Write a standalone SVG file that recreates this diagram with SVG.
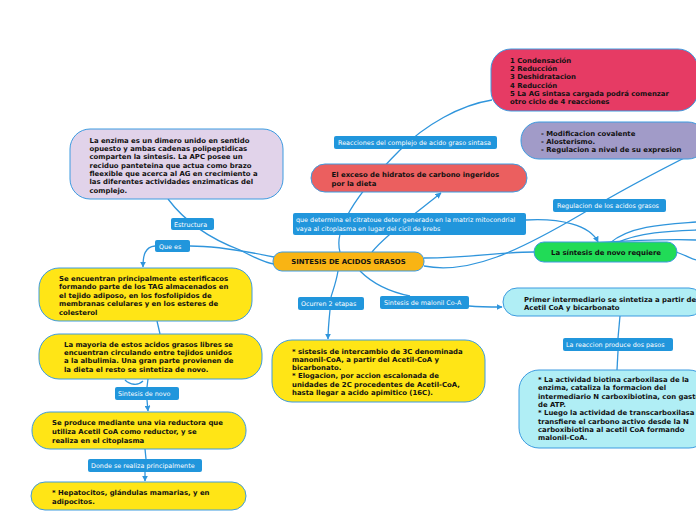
<svg xmlns="http://www.w3.org/2000/svg" width="696" height="520" viewBox="0 0 696 520">
<defs>
<style>
.n{stroke:#3d9be0;stroke-width:1}
.t{font-family:"DejaVu Sans",Verdana,sans-serif;font-weight:bold;font-size:6.9px;fill:#111}
.lb{fill:#2196dc}
.lt{font-family:"DejaVu Sans",Verdana,sans-serif;font-size:6.4px;fill:#fff}
.c{fill:none;stroke:#2f95dc;stroke-width:1.3}
</style>
<marker id="a" viewBox="0 0 10 10" refX="9" refY="5" markerWidth="6" markerHeight="6" orient="auto" markerUnits="userSpaceOnUse">
<path d="M0,0 L10,5 L0,10 z" fill="#2f95dc"/>
</marker>
</defs>
<rect width="696" height="520" fill="#fff"/>
<g id="connectors">
<path class="c" d="M 340 252 C 332 225, 365 185, 400 150 C 425 125, 460 105, 492 100"/>
<path class="c" d="M 372 252 C 385 235, 420 210, 441 193" marker-end="url(#a)"/>
<path class="c" d="M 526 220 C 560 218, 590 225, 598 242" marker-end="url(#a)"/>
<path class="c" d="M 168 199 C 180 215, 200 235, 240 250 C 255 258, 265 263, 274 264"/>
<path class="c" d="M 274 257 C 240 250, 215 246, 190 246"/>
<path class="c" d="M 155 246 C 145 247, 143 255, 143 267" marker-end="url(#a)"/>
<path class="c" d="M 157 321 L 160 334"/>
<path class="c" d="M 148 379 L 147 387"/>
<path class="c" d="M 143 381 C 138 386, 130 385, 125 380"/>
<path class="c" d="M 147 400 L 148 411" marker-end="url(#a)"/>
<path class="c" d="M 145 449 L 146 459"/>
<path class="c" d="M 145 472 L 145 481" marker-end="url(#a)"/>
<path class="c" d="M 338 271 C 336 283, 333 290, 331 297"/>
<path class="c" d="M 330 310 C 329 320, 328 330, 328 339" marker-end="url(#a)"/>
<path class="c" d="M 360 271 C 372 283, 390 292, 410 296"/>
<path class="c" d="M 469 306 C 480 307, 490 307, 502 307" marker-end="url(#a)"/>
<path class="c" d="M 620 316 L 618 338"/>
<path class="c" d="M 618 351 L 617 370"/>
<path class="c" d="M 424 258 C 470 258, 500 252, 534 252"/>
<path class="c" d="M 424 266 C 470 275, 520 250, 580 215 C 630 185, 670 165, 696 152"/>
<path class="c" d="M 610 243 C 630 225, 670 224, 696 222"/>
<path class="c" d="M 616 243 C 640 232, 670 231, 696 230"/>
<path class="c" d="M 595 243 C 640 240, 670 239, 696 240"/>
<path class="c" d="M 676 252 C 685 255, 690 258, 696 260"/>
</g>
<g id="lbl-reacciones"><rect class="lb" x="334" y="136" width="163" height="13" rx="2"/><text class="lt" x="338" y="145">Reacciones del complejo de acido graso sintasa</text></g>
<g id="lbl-determina"><rect class="lb" x="293" y="213" width="233" height="22" rx="2"/><text class="lt" x="296" y="221.7">que determina el citratoue deter generado en la matriz mitocondrial</text><text class="lt" x="296" y="230.7">vaya al citoplasma en lugar del cicil de krebs</text></g>
<g id="lbl-regulacion"><rect class="lb" x="553" y="199" width="113" height="13" rx="2"/><text class="lt" x="557" y="208">Regulacion de los acidos grasos</text></g>
<g id="lbl-estructura"><rect class="lb" x="171" y="218" width="43" height="12" rx="2"/><text class="lt" x="174" y="226.5">Estructura</text></g>
<g id="lbl-quees"><rect class="lb" x="155" y="240" width="35" height="12" rx="2"/><text class="lt" x="159" y="248.5">Que es</text></g>
<g id="lbl-ocurren"><rect class="lb" x="298" y="297" width="66" height="13" rx="2"/><text class="lt" x="301" y="306">Ocurren 2 etapas</text></g>
<g id="lbl-malonil"><rect class="lb" x="380" y="296" width="89" height="13" rx="2"/><text class="lt" x="384" y="305">Sintesis de malonil Co-A</text></g>
<g id="lbl-reaccion"><rect class="lb" x="563" y="338" width="110" height="13" rx="2"/><text class="lt" x="566" y="347">La reaccion produce dos pasos</text></g>
<g id="lbl-novo"><rect class="lb" x="115" y="387" width="64" height="13" rx="2"/><text class="lt" x="118" y="396">Sintesis de novo</text></g>
<g id="lbl-donde"><rect class="lb" x="88" y="459" width="114" height="13" rx="2"/><text class="lt" x="91" y="468">Donde se realiza principalmente</text></g>

<g id="n-pink"><rect class="n" x="491" y="49" width="207" height="62" rx="20" fill="#e63b64"/>
<text class="t" x="510" y="62.5">1 Condensación</text>
<text class="t" x="510" y="71">2 Reducción</text>
<text class="t" x="510" y="79.3">3 Deshidratacion</text>
<text class="t" x="510" y="87.6">4 Reducción</text>
<text class="t" x="510" y="96">5 La AG sintasa cargada podrá comenzar</text>
<text class="t" x="510" y="104.3">otro ciclo de 4 reacciones</text></g>
<g id="n-purple"><rect class="n" x="521" y="122" width="185" height="37" rx="18" fill="#a19bc8"/>
<text class="t" x="541" y="135.5">- Modificacion covalente</text>
<text class="t" x="541" y="143.5">- Alosterismo.</text>
<text class="t" x="541" y="152">- Regulacion a nivel de su expresion</text></g>
<g id="n-lavender"><rect class="n" x="70" y="129" width="213" height="70" rx="20" fill="#e1d3ea"/>
<text class="t" x="89.5" y="142.5">La enzima es un dimero unido en sentido</text>
<text class="t" x="89.5" y="150.8">opuesto y ambas cadenas polipeptidicas</text>
<text class="t" x="89.5" y="159.2">comparten la sintesis. La APC posee un</text>
<text class="t" x="89.5" y="167.5">reciduo panteteina que actua como brazo</text>
<text class="t" x="89.5" y="175.8">fleexible que acerca al AG en crecimiento a</text>
<text class="t" x="89.5" y="184.2">las diferentes actividades enzimaticas del</text>
<text class="t" x="89.5" y="192.5">complejo.</text></g>
<g id="n-red"><rect class="n" x="311" y="164" width="216" height="28" rx="14" fill="#eb5f5f"/>
<text class="t" x="331.5" y="176.8">El exceso de hidratos de carbono ingeridos</text>
<text class="t" x="331.5" y="185.8">por la dieta</text></g>
<g id="n-central"><rect class="n" x="273" y="252" width="151" height="19" rx="9" fill="#f9b414"/>
<text class="t" x="348.5" y="264" text-anchor="middle">SINTESIS DE ACIDOS GRASOS</text></g>
<g id="n-green"><rect class="n" x="534" y="242" width="143" height="20" rx="10" fill="#21db57"/>
<text class="t" x="606" y="254.5" text-anchor="middle">La síntesis de novo requiere</text></g>
<g id="n-y1"><rect class="n" x="39" y="268" width="213" height="53" rx="20" fill="#ffe516"/>
<text class="t" x="59" y="280.5">Se encuentran principalmente esterificacos</text>
<text class="t" x="59" y="288.8">formando parte de los TAG almacenados en</text>
<text class="t" x="59" y="297.5">el tejido adiposo, en los fosfolipidos de</text>
<text class="t" x="59" y="306.2">membranas celulares y en los esteres de</text>
<text class="t" x="59" y="315">colesterol</text></g>
<g id="n-y2"><rect class="n" x="39" y="334" width="223" height="45" rx="20" fill="#ffe516"/>
<text class="t" x="64" y="346.5">La mayoria de estos acidos grasos libres se</text>
<text class="t" x="64" y="354.8">encuentran circulando entre tejidos unidos</text>
<text class="t" x="64" y="363.2">a la albulimia. Una gran parte provienen de</text>
<text class="t" x="64" y="371.8">la dieta el resto se sintetiza de novo.</text></g>
<g id="n-y3"><rect class="n" x="32" y="412" width="214" height="37" rx="18" fill="#ffe516"/>
<text class="t" x="52" y="425.2">Se produce mediante una via reductora que</text>
<text class="t" x="52" y="434.2">utiliza Acetil CoA como reductor, y se</text>
<text class="t" x="52" y="442.5">realiza en el citoplasma</text></g>
<g id="n-y4"><rect class="n" x="31" y="482" width="215" height="28" rx="14" fill="#ffe516"/>
<text class="t" x="52" y="494.8">* Hepatocitos, glándulas mamarias, y en</text>
<text class="t" x="52" y="503.5">adipocitos.</text></g>
<g id="n-y5"><rect class="n" x="272" y="340" width="213" height="62" rx="20" fill="#ffe516"/>
<text class="t" x="292" y="353.5">* sistesis de intercambio de 3C denominada</text>
<text class="t" x="292" y="361.5">manonil-CoA, a partir del Acetil-CoA y</text>
<text class="t" x="292" y="369.8">bicarbonato.</text>
<text class="t" x="292" y="377.8">* Elogacion, por accion escalonada de</text>
<text class="t" x="292" y="386.5">unidades de 2C procedentes de Acetil-CoA,</text>
<text class="t" x="292" y="394.8">hasta llegar a acido apimitico (16C).</text></g>
<g id="n-cyan1"><rect class="n" x="503" y="288" width="200" height="28" rx="14" fill="#b0eef5"/>
<text class="t" x="524" y="301.5">Primer intermediario se sintetiza a partir de</text>
<text class="t" x="524" y="309.8">Acetil CoA y bicarbonato</text></g>
<g id="n-cyan2"><rect class="n" x="519" y="370" width="190" height="78" rx="20" fill="#b0eef5"/>
<text class="t" x="538" y="381.8">* La actividad biotina carboxilasa de la</text>
<text class="t" x="538" y="390.2">enzima, cataliza la formacion del</text>
<text class="t" x="538" y="398.5">intermediario N carboxibiotina, con gasto</text>
<text class="t" x="538" y="406.8">de ATP.</text>
<text class="t" x="538" y="415.2">* Luego la actividad de transcarboxilasa</text>
<text class="t" x="538" y="423.5">transfiere el carbono activo desde la N</text>
<text class="t" x="538" y="431.8">carboxibiotina al acetil CoA formando</text>
<text class="t" x="538" y="440.2">malonil-CoA.</text></g>
</svg>
